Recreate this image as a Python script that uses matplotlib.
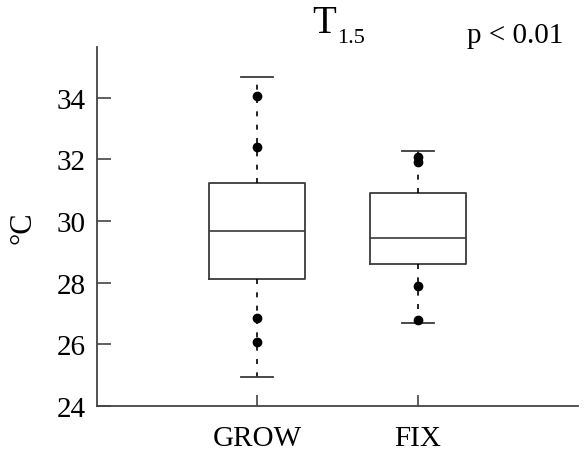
import matplotlib
matplotlib.use('Agg')
import matplotlib.pyplot as plt

# values
groups = ['GROW', 'FIX']
q1 = [28.13, 28.60]
med = [29.69, 29.46]
q3 = [31.25, 30.92]
whislo = [24.94, 26.70]
whishi = [34.67, 32.26]
fliers = [[34.05, 32.42, 26.86, 26.08], [32.07, 31.93, 27.90, 26.80]]

plt.rcParams['font.family'] = ['Liberation Serif', 'DejaVu Serif']

W, H = 584, 456
fig = plt.figure(figsize=(W / 100, H / 100), dpi=100)
ax = fig.add_axes([97 / W, 49 / H, 481 / W, 359 / H])

stats = []
for i, g in enumerate(groups):
    stats.append({'label': g, 'q1': q1[i], 'med': med[i], 'q3': q3[i],
                  'whislo': whislo[i], 'whishi': whishi[i], 'fliers': fliers[i]})

line_col = '#3a3a3a'
ax.bxp(stats, positions=[1, 2], widths=0.6, showfliers=True,
       boxprops=dict(color=line_col, linewidth=1.3),
       medianprops=dict(color=line_col, linewidth=1.2),
       whiskerprops=dict(color='black', linewidth=1.2, linestyle=(0, (3, 5))),
       capprops=dict(color=line_col, linewidth=1.3),
       capwidths=0.2,
       flierprops=dict(marker='o', markerfacecolor='black', markeredgecolor='black',
                       markersize=6, linestyle='none'))

ax.set_xlim(0, 3)
ax.set_ylim(24, 35.65)
ax.set_yticks([24, 26, 28, 30, 32, 34])
ax.set_xticks([1, 2])
ax.set_xticklabels(groups)

for s in ['top', 'right']:
    ax.spines[s].set_visible(False)
for s in ['left', 'bottom']:
    ax.spines[s].set_color('#444444')
    ax.spines[s].set_linewidth(1.3)

ax.tick_params(axis='y', direction='in', length=10, width=1.2, color='#444444',
               labelsize=21, pad=8)
ax.tick_params(axis='x', direction='in', length=8, width=1.2, color='#444444',
               labelsize=21, pad=14)

ax.set_ylabel('°C', fontsize=22, labelpad=14)

# title with subscript, placed as two texts on their own baselines
fig.text(312 / W, 1 - 33 / H, 'T', fontsize=28, va='baseline', ha='left')
fig.text(337 / W, 1 - 43 / H, '1.5', fontsize=16, va='baseline', ha='left')
fig.text(467 / W, 1 - 43 / H, 'p < 0.01', fontsize=21, va='baseline', ha='left')

fig.savefig('out.png', dpi=100)
